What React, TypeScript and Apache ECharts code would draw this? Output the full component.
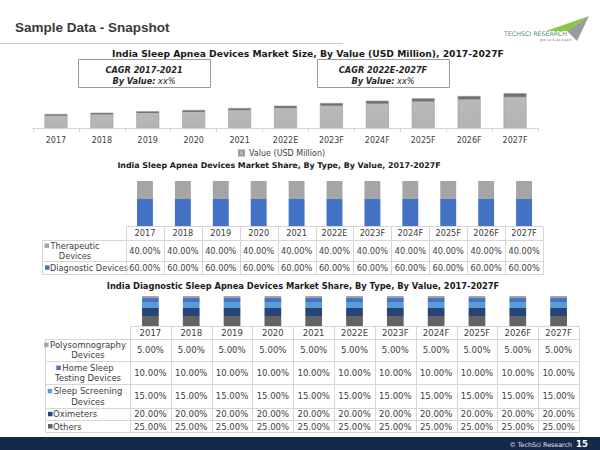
import React, { useEffect, useRef } from "react";
import * as echarts from "echarts";

// ---------- data ----------
const years = ["2017", "2018", "2019", "2020", "2021", "2022E", "2023F", "2024F", "2025F", "2026F", "2027F"];
const marketSizeUsdMn = [14.0, 15.3, 16.7, 18.0, 20.0, 22.3, 25.0, 27.3, 29.7, 32.0, 34.7];
const therapeuticShare = [40, 40, 40, 40, 40, 40, 40, 40, 40, 40, 40];
const diagnosticShare = [60, 60, 60, 60, 60, 60, 60, 60, 60, 60, 60];
const polysomnographyShare = [5, 5, 5, 5, 5, 5, 5, 5, 5, 5, 5];
const homeSleepTestingShare = [10, 10, 10, 10, 10, 10, 10, 10, 10, 10, 10];
const sleepScreeningShare = [15, 15, 15, 15, 15, 15, 15, 15, 15, 15, 15];
const oximetersShare = [20, 20, 20, 20, 20, 20, 20, 20, 20, 20, 20];
const othersShare = [25, 25, 25, 25, 25, 25, 25, 25, 25, 25, 25];

const pageTitle = "Sample Data - Snapshot";
const chart1Title = "India Sleep Apnea Devices Market Size, By Value (USD Million), 2017-2027F";
const chart2Title = "India Sleep Apnea Devices Market Share, By Type, By Value, 2017-2027F";
const chart3Title = "India Diagnostic Sleep Apnea Devices Market Share, By Type, By Value, 2017-2027F";
const cagrLeft = ["CAGR 2017-2021", "By Value:", "xx%"];
const cagrRight = ["CAGR 2022E-2027F", "By Value:", "xx%"];
const legend1Name = "Value (USD Million)";

// ---------- style ----------
const FONT = "'DejaVu Sans', Verdana, sans-serif";
const TEXT = "#404040";
const LINE = "#d6d6d6";
const C_GRAY = "#a5a5a5";
const C_BLUE = "#4472c4";
const C_LIGHT = "#5b9bd5";
const C_NAVY = "#264478";
const C_DARK = "#636363";

type Row = { lines: string[]; color: string; values: number[]; h: number };

const table2Rows: Row[] = [
  { lines: ["Therapeutic", "Devices"], color: C_GRAY, values: therapeuticShare, h: 21.4 },
  { lines: ["Diagnostic Devices"], color: C_BLUE, values: diagnosticShare, h: 12.6 },
];
const table3Rows: Row[] = [
  { lines: ["Polysomnography", "Devices"], color: C_GRAY, values: polysomnographyShare, h: 22.4 },
  { lines: ["Home Sleep", "Testing Devices"], color: C_BLUE, values: homeSleepTestingShare, h: 23.3 },
  { lines: ["Sleep Screening", "Devices"], color: C_LIGHT, values: sleepScreeningShare, h: 23.3 },
  { lines: ["Oximeters"], color: C_NAVY, values: oximetersShare, h: 12.4 },
  { lines: ["Others"], color: C_DARK, values: othersShare, h: 12 },
];

const crisp = (v: number) => Math.round(v) + 0.5;

function txt(x: number, y: number, text: string, o: any = {}) {
  return {
    type: "text",
    x,
    y,
    silent: true,
    style: {
      text,
      fill: o.fill || TEXT,
      fontSize: o.size || 8,
      fontFamily: o.family || FONT,
      fontWeight: o.weight || "normal",
      fontStyle: o.style || "normal",
      textAlign: o.align || "center",
      textVerticalAlign: "middle",
      align: o.align || "center",
      verticalAlign: "middle",
      rich: o.rich,
    },
  };
}

function cellRect(x: number, y: number, w: number, h: number) {
  return {
    type: "rect",
    silent: true,
    shape: { x: crisp(x), y: crisp(y), width: Math.round(x + w) - Math.round(x), height: Math.round(y + h) - Math.round(y) },
    style: { fill: "none", stroke: LINE, lineWidth: 1 },
  };
}

function buildTable(chart: any, axisIdx: number, rows: Row[], o: { labelLeft: number; labelCenter: number; headerH: number; size: number }) {
  const ctx = document.createElement("canvas").getContext("2d") as CanvasRenderingContext2D;
  ctx.font = `${o.size}px ${FONT}`;
  const els: any[] = [];
  const xs = years.map((y) => chart.convertToPixel({ xAxisIndex: axisIdx }, y) as number);
  const bw = xs[1] - xs[0];
  const top = chart.convertToPixel({ yAxisIndex: axisIdx }, 0) as number;
  const firstLeft = xs[0] - bw / 2;
  years.forEach((y, i) => {
    els.push(cellRect(xs[i] - bw / 2, top, bw, o.headerH));
    els.push(txt(xs[i], top + o.headerH / 2 + 0.5, y, { size: o.size }));
  });
  let cy = top + o.headerH;
  rows.forEach((r) => {
    els.push(cellRect(o.labelLeft, cy, firstLeft - o.labelLeft, r.h));
    const mid = cy + r.h / 2 + 0.5;
    if (r.lines.length === 1) {
      els.push({ type: "rect", silent: true, shape: { x: o.labelLeft + 3, y: mid - 2.5, width: 4.5, height: 4.5 }, style: { fill: r.color } });
      els.push(txt(o.labelLeft + 8, mid, r.lines[0], { size: o.size, align: "left" }));
    } else {
      const l1 = mid - o.size * 0.6;
      const l2 = mid + o.size * 0.6;
      const w1 = ctx.measureText(r.lines[0]).width;
      els.push({ type: "rect", silent: true, shape: { x: o.labelCenter - w1 / 2 - 6, y: l1 - 2.5, width: 4.5, height: 4.5 }, style: { fill: r.color } });
      els.push(txt(o.labelCenter, l1, r.lines[0], { size: o.size }));
      els.push(txt(o.labelCenter, l2, r.lines[1], { size: o.size }));
    }
    r.values.forEach((v, i) => {
      els.push(cellRect(xs[i] - bw / 2, cy, bw, r.h));
      els.push(txt(xs[i], mid, `${v.toFixed(2)}%`, { size: o.size }));
    });
    cy += r.h;
  });
  return els;
}

function cagrBox(x: number, y: number, w: number, h: number, lines: string[]) {
  const cx = x + w / 2;
  return [
    { type: "rect", silent: true, shape: { x: crisp(x), y: crisp(y), width: w, height: h }, style: { fill: "#fff", stroke: "#9a9a9a", lineWidth: 1 } },
    txt(cx, y + 11, lines[0], { size: 8.2, weight: "bold", style: "italic", fill: "#262626" }),
    txt(cx, y + 22, `{b|${lines[1]}} {n|${lines[2]}}`, {
      size: 8.2,
      fill: "#262626",
      rich: {
        b: { fontSize: 8.2, fontFamily: FONT, fontWeight: "bold", fontStyle: "italic", fill: "#262626" },
        n: { fontSize: 8.2, fontFamily: FONT, fontStyle: "italic", fill: "#262626" },
      },
    }),
  ];
}

export default function App() {
  const ref = useRef<HTMLDivElement>(null);
  useEffect(() => {
    if (!ref.current) return;
    const chart = echarts.init(ref.current, undefined, { renderer: "svg" });
    const hiddenY = (max: number, gridIndex: number) => ({ type: "value", gridIndex, min: 0, max, show: false });
    const hiddenX = (gridIndex: number) => ({ type: "category", gridIndex, data: years, show: false });
    const barGradient = new echarts.graphic.LinearGradient(0, 0, 0, 1, [
      { offset: 0, color: "#666666" },
      { offset: 0.08, color: "#777777" },
      { offset: 0.12, color: "#b9b9b9" },
      { offset: 1, color: "#b3b3b3" },
    ]);
    chart.setOption({
      animation: false,
      backgroundColor: "#ffffff",
      textStyle: { fontFamily: FONT },
      grid: [
        { left: 33, top: 60, width: 505, height: 68 },
        { left: 126, top: 181, width: 417, height: 45 },
        { left: 130, top: 296, width: 449, height: 30 },
      ],
      legend: {
        data: [legend1Name],
        left: 238,
        top: 149,
        icon: "rect",
        itemWidth: 5,
        itemHeight: 5,
        padding: 0,
        textStyle: { fontSize: 8, color: TEXT, fontFamily: FONT },
      },
      xAxis: [
        {
          type: "category",
          gridIndex: 0,
          data: years,
          axisLine: { lineStyle: { color: LINE } },
          axisTick: { show: true, length: 4, lineStyle: { color: LINE } },
          axisLabel: { fontSize: 8, color: TEXT, margin: 8, fontFamily: FONT, interval: 0 },
        },
        hiddenX(1),
        hiddenX(2),
      ],
      yAxis: [hiddenY(68, 0), hiddenY(100, 1), hiddenY(75, 2)],
      series: [
        {
          name: legend1Name,
          type: "bar",
          xAxisIndex: 0,
          yAxisIndex: 0,
          data: marketSizeUsdMn,
          barWidth: "50%",
          itemStyle: { color: barGradient, borderColor: "#9c9c9c", borderWidth: 0.6 },
        },
        { name: "Diagnostic Devices", type: "bar", stack: "s2", xAxisIndex: 1, yAxisIndex: 1, data: diagnosticShare, barWidth: "42%", itemStyle: { color: C_BLUE } },
        { name: "Therapeutic Devices", type: "bar", stack: "s2", xAxisIndex: 1, yAxisIndex: 1, data: therapeuticShare, barWidth: "42%", itemStyle: { color: C_GRAY } },
        { name: "Others", type: "bar", stack: "s3", xAxisIndex: 2, yAxisIndex: 2, data: othersShare, barWidth: "41%", itemStyle: { color: C_DARK } },
        { name: "Oximeters", type: "bar", stack: "s3", xAxisIndex: 2, yAxisIndex: 2, data: oximetersShare, barWidth: "41%", itemStyle: { color: C_NAVY } },
        { name: "Sleep Screening Devices", type: "bar", stack: "s3", xAxisIndex: 2, yAxisIndex: 2, data: sleepScreeningShare, barWidth: "41%", itemStyle: { color: C_LIGHT } },
        { name: "Home Sleep Testing Devices", type: "bar", stack: "s3", xAxisIndex: 2, yAxisIndex: 2, data: homeSleepTestingShare, barWidth: "41%", itemStyle: { color: C_BLUE } },
        { name: "Polysomnography Devices", type: "bar", stack: "s3", xAxisIndex: 2, yAxisIndex: 2, data: polysomnographyShare, barWidth: "41%", itemStyle: { color: C_GRAY } },
      ],
    });

    const decorations: any[] = [
      txt(15, 27, pageTitle, { size: 13.5, weight: "bold", family: "'Liberation Sans', Arial, sans-serif", align: "left", fill: "#3a3a3a" }),
      { type: "line", silent: true, shape: { x1: 0, y1: 43.5, x2: 343, y2: 43.5 }, style: { stroke: "#c8c8c8", lineWidth: 1 } },
      // logo
      { type: "polygon", silent: true, shape: { points: [[546, 31], [589, 16], [567, 31]] }, style: { fill: "#8dc63f" } },
      { type: "polygon", silent: true, shape: { points: [[567, 31], [589, 16], [577, 41]] }, style: { fill: "#9b9b9b" } },
      txt(504, 33.5, "TECHSCI RESEARCH", { size: 6.3, align: "left", fill: "#4f8c7a", family: "'DejaVu Sans'" }),
      txt(540, 39.5, "Join us & be a part", { size: 3.4, align: "left", fill: "#777" }),
      // chart titles
      txt(308, 53, chart1Title, { size: 9.2, weight: "bold", fill: "#1a1a1a" }),
      txt(279, 165, chart2Title, { size: 7.9, weight: "bold", fill: "#1a1a1a" }),
      txt(303, 286, chart3Title, { size: 8.3, weight: "bold", fill: "#1a1a1a" }),
      ...cagrBox(78, 59, 132, 28, cagrLeft),
      ...cagrBox(317, 59, 132, 28, cagrRight),
      // footer
      { type: "rect", silent: true, shape: { x: 0, y: 437, width: 600, height: 13 }, style: { fill: "#15294a" } },
      txt(572, 444, "© TechSci Research", { size: 6.3, align: "right", fill: "#e6e6e6" }),
      txt(582, 443.5, "15", { size: 8.5, weight: "bold", fill: "#ffffff" }),
    ];

    const t2 = buildTable(chart, 1, table2Rows, { labelLeft: 42, labelCenter: 75, headerH: 13.6, size: 8.2 });
    const t3 = buildTable(chart, 2, table3Rows, { labelLeft: 45, labelCenter: 88, headerH: 12.6, size: 8.5 });

    chart.setOption({ graphic: { elements: [...decorations, ...t2, ...t3] } });
    return () => chart.dispose();
  }, []);
  return <div ref={ref} style={{ position: "fixed", left: 0, top: 0, width: 600, height: 450 }} />;
}
